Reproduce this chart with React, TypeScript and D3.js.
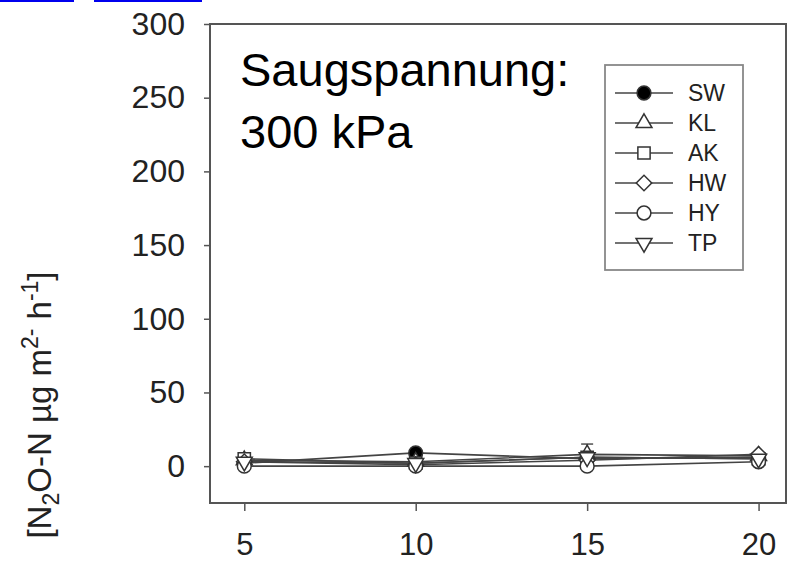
import { useEffect, useRef } from "react";
import * as d3 from "d3";

// ── Data ──────────────────────────────────────────────────────────────────────

const DAYS = [5, 10, 15, 20];

const SW = [2, 9, 5, 6];
const KL = [4, 3, 8, 7];
const AK = [5, 2, 6, 5];
const HW = [3, 1, 4, 8];
const HY = [0, 0, 0, 3];
const TP = [3, 2, 6, 5];

const KL_ERR = [2, 1, 7, 2];

const Y_TICKS = [0, 50, 100, 150, 200, 250, 300];

// ── Config ────────────────────────────────────────────────────────────────────

const WIDTH  = 790;
const HEIGHT = 562;
const PLOT   = { left: 210, right: 786, top: 24, bottom: 503 };
const FONT   = "Liberation Sans, Arial, sans-serif";

type Marker = "circleFilled" | "triUp" | "square" | "diamond" | "circle" | "triDown";

const SERIES: { name: string; values: number[]; marker: Marker; err?: number[] }[] = [
  { name: "SW", values: SW, marker: "circleFilled" },
  { name: "KL", values: KL, marker: "triUp", err: KL_ERR },
  { name: "AK", values: AK, marker: "square" },
  { name: "HW", values: HW, marker: "diamond" },
  { name: "HY", values: HY, marker: "circle" },
  { name: "TP", values: TP, marker: "triDown" },
];

const drawMarker = (
  g: d3.Selection<SVGGElement, unknown, null, undefined>,
  kind: Marker,
  x: number,
  y: number,
) => {
  let path = "";
  let rot = 0;
  switch (kind) {
    case "circleFilled":
    case "circle":
      path = d3.symbol().type(d3.symbolCircle).size(150)() ?? "";
      break;
    case "square":
      path = d3.symbol().type(d3.symbolSquare).size(150)() ?? "";
      break;
    case "diamond":
      path = d3.symbol().type(d3.symbolSquare).size(120)() ?? "";
      rot = 45;
      break;
    case "triUp":
      path = d3.symbol().type(d3.symbolTriangle).size(110)() ?? "";
      break;
    case "triDown":
      path = d3.symbol().type(d3.symbolTriangle).size(110)() ?? "";
      rot = 180;
      break;
  }
  g.append("path")
    .attr("d", path)
    .attr("transform", `translate(${x},${y}) rotate(${rot})`)
    .attr("stroke", "#333")
    .attr("stroke-width", 1.5)
    .attr("fill", kind === "circleFilled" ? "#000" : "#fff");
};

// ── Component ─────────────────────────────────────────────────────────────────

const App = () => {
  const svgRef = useRef<SVGSVGElement>(null);

  useEffect(() => {
    if (!svgRef.current) return;
    const svg = d3.select(svgRef.current);
    svg.selectAll("*").remove();

    svg.append("rect").attr("width", WIDTH).attr("height", HEIGHT).attr("fill", "#fff");

    // link underlines at the very top of the page
    [[0, 74], [94, 202]].forEach(([a, b]) => {
      svg.append("rect").attr("x", a).attr("y", 0).attr("width", b - a).attr("height", 2).attr("fill", "#0000ee");
    });

    const x = d3.scaleLinear().domain([4, 20.8]).range([PLOT.left, PLOT.right]);
    const y = d3.scaleLinear().domain([-25, 300]).range([PLOT.bottom, PLOT.top]);

    const axisColor = "#555";

    // frame
    svg.append("rect")
      .attr("x", PLOT.left).attr("y", PLOT.top)
      .attr("width", PLOT.right - PLOT.left).attr("height", PLOT.bottom - PLOT.top)
      .attr("fill", "none").attr("stroke", axisColor).attr("stroke-width", 2);

    // Y axis
    const yAxis = svg.append("g")
      .attr("transform", `translate(${PLOT.left},0)`)
      .call(d3.axisLeft(y).tickValues(Y_TICKS).tickSize(6).tickPadding(19).tickFormat(d3.format("d")));
    yAxis.select(".domain").remove();
    yAxis.selectAll("line").attr("stroke", axisColor).attr("stroke-width", 1.5);
    yAxis.selectAll("text").attr("font-size", 32).attr("font-family", FONT).attr("fill", "#222");

    // X axis
    const xAxis = svg.append("g")
      .attr("transform", `translate(0,${PLOT.bottom})`)
      .call(d3.axisBottom(x).tickValues(DAYS).tickSize(8).tickPadding(22).tickFormat(d3.format("d")));
    xAxis.select(".domain").remove();
    xAxis.selectAll("line").attr("stroke", axisColor).attr("stroke-width", 1.5);
    xAxis.selectAll("text").attr("font-size", 31).attr("font-family", FONT).attr("fill", "#222");

    // Y label
    const yl = svg.append("text")
      .attr("transform", "translate(51,405) rotate(-90)")
      .attr("text-anchor", "middle")
      .attr("font-size", 33)
      .attr("font-family", FONT)
      .attr("fill", "#222");
    yl.append("tspan").text("[N");
    yl.append("tspan").text("2").attr("font-size", 23).attr("dy", 8);
    yl.append("tspan").text("O-N µg m").attr("dy", -8);
    yl.append("tspan").text("2-").attr("font-size", 23).attr("dy", -13);
    yl.append("tspan").text(" h").attr("dy", 13);
    yl.append("tspan").text("-1").attr("font-size", 23).attr("dy", -13);
    yl.append("tspan").text("]").attr("dy", 13);

    // annotation
    const ann = svg.append("text").attr("font-size", 47).attr("font-family", FONT).attr("fill", "#000");
    ann.append("tspan").attr("x", 240).attr("y", 86).text("Saugspannung:");
    ann.append("tspan").attr("x", 240).attr("y", 148).text("300 kPa");

    // series
    const line = d3.line<number>().x((_, i) => x(DAYS[i])).y((d) => y(d));
    const data = svg.append("g");

    SERIES.forEach((s) => {
      data.append("path")
        .datum(s.values)
        .attr("fill", "none")
        .attr("stroke", "#444")
        .attr("stroke-width", 1.6)
        .attr("d", line);
    });

    SERIES.forEach((s) => {
      if (!s.err) return;
      s.values.forEach((v, i) => {
        const e = s.err![i];
        const cx = x(DAYS[i]);
        data.append("line")
          .attr("x1", cx).attr("x2", cx)
          .attr("y1", y(v)).attr("y2", y(v + e))
          .attr("stroke", "#444").attr("stroke-width", 1.4);
        data.append("line")
          .attr("x1", cx - 6).attr("x2", cx + 6)
          .attr("y1", y(v + e)).attr("y2", y(v + e))
          .attr("stroke", "#444").attr("stroke-width", 1.4);
      });
    });

    SERIES.forEach((s) => {
      s.values.forEach((v, i) => {
        drawMarker(data, s.marker, x(DAYS[i]), y(v));
      });
    });

    // legend
    const legend = svg.append("g");
    legend.append("rect")
      .attr("x", 605).attr("y", 65).attr("width", 138).attr("height", 205)
      .attr("fill", "#fff").attr("stroke", "#888").attr("stroke-width", 1.8);

    const ly = d3.scalePoint<string>()
      .domain(SERIES.map((s) => s.name))
      .range([93, 243]);

    SERIES.forEach((s) => {
      const cy = ly(s.name) ?? 0;
      legend.append("line")
        .attr("x1", 615).attr("x2", 673).attr("y1", cy).attr("y2", cy)
        .attr("stroke", "#444").attr("stroke-width", 1.5);
      drawMarker(legend, s.marker, 644, cy);
      legend.append("text")
        .attr("x", 688).attr("y", cy)
        .attr("dy", "0.36em")
        .attr("font-size", 23)
        .attr("font-family", FONT)
        .attr("fill", "#222")
        .text(s.name);
    });
  }, []);

  return (
    <svg
      ref={svgRef}
      width={WIDTH}
      height={HEIGHT}
      style={{ position: "absolute", left: 0, top: 0, display: "block" }}
    />
  );
};

export default App;
